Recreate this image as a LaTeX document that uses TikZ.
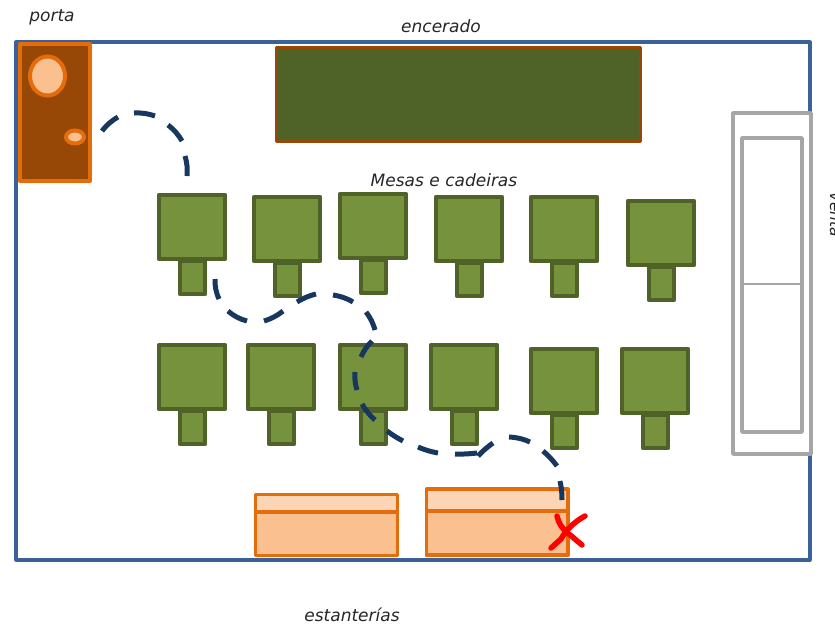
\documentclass[tikz,border=0pt]{standalone}
\usepackage{fontspec}
\setmainfont{DejaVu Sans}
\definecolor{roomblue}{HTML}{3A6298}
\definecolor{pathblue}{HTML}{17375E}
\definecolor{deskgreen}{HTML}{76923C}
\definecolor{darkgreen}{HTML}{4F6228}
\definecolor{doorbrown}{HTML}{974806}
\definecolor{lineorange}{HTML}{E46C0A}
\definecolor{lightorange}{HTML}{FAC090}
\definecolor{paleorange}{HTML}{FBD5B5}
\definecolor{wingray}{HTML}{A6A6A6}
\tikzset{
  desk/.style={draw=darkgreen,fill=deskgreen,line width=4.5pt,line join=round},
  shelf/.style={draw=lineorange,line width=3.2pt,line join=round},
  windowline/.style={draw=wingray,line width=3.5pt,line join=round},
  walk/.style={draw=pathblue,line width=5pt},
  label/.style={font=\itshape\fontsize{17}{20}\selectfont,text=black!85}
}
\begin{document}
\begin{tikzpicture}[x=1pt,y=-1pt]
\useasboundingbox (0,0) rectangle (835,626);
\draw[draw=roomblue,line width=3.2pt,line join=round] (16,42) rectangle (810,560);
% door
\draw[draw=lineorange,fill=doorbrown,line width=4pt,line join=round] (20,44) rectangle (90,181);
\draw[draw=lineorange,fill=lightorange,line width=4pt] (47.5,76) ellipse (17.5 and 19.5);
\draw[draw=lineorange,fill=lightorange,line width=4pt] (75,137) ellipse (9 and 6.5);
% board
\draw[draw=doorbrown,fill=darkgreen,line width=3pt,line join=round] (276.5,48) rectangle (640,141.5);
% window
\draw[windowline,fill=white] (733,113) rectangle (811,454);
\draw[windowline] (742,138) rectangle (802,432);
\draw[draw=wingray,line width=1.5pt] (742,284) -- (802,284);
% desks and chairs
\foreach \x/\y in {159/195,254/197,340/194,436/197,531/197,628/201,159/345,248/345,340/345,431/345,531/349,622/349} {
  \draw[desk] (\x+21,\y+66) rectangle (\x+46,\y+99);
  \draw[desk] (\x,\y) rectangle (\x+66,\y+64);
}
% shelves
\draw[shelf,fill=paleorange] (255.5,494.5) rectangle (397.5,555.5);
\draw[shelf,fill=lightorange] (255.5,512) rectangle (397.5,555.5);
\draw[shelf,fill=paleorange] (426.5,489) rectangle (568,555);
\draw[shelf,fill=lightorange] (426.5,511) rectangle (568,555);
% walk
\foreach \xa/\ya/\xb/\yb/\b in {102/131/118/117/10,134/113/155/116/10,168/125/182/141/10,185/156/187/176/10,
  215/279/219/299/-12,228/311/247/321/-12,264/321/283/311/-10,297/302/316/294/8,333/295/353/302/10,366/312/375/330/10,
  372/341/361/357/-10,355/372/357/390/-10,362/404/375/420/-8,387/431/403/441/-4,418/447/438/453/-6,455/454/477/453/-4,
  478/456/493/443/5,509/437/530/442/10,543/451/557/466/6,560/481/562/500/6}
  \draw[walk] (\xa,\ya) to[bend left=\b] (\xb,\yb);
% cross
\draw[draw=red,line width=5.5pt,line cap=round] (557,516) .. controls (560,530) and (570,534) .. (576,540) -- (582,545);
\draw[draw=red,line width=5.5pt,line cap=round] (585,516) .. controls (574,522) and (566,530) .. (561,539) -- (551,548);
% labels
\node[label] (porta) at (52,17) {porta};
\node[label] (encerado) at (441,26) {encerado};
\node[label] (mesas) at (444,180) {Mesas e cadeiras};
\node[label,inner ysep=1pt] (estanterias) at (352,615) {estanterías};
\node[label,font=\itshape\fontsize{15.5}{18}\selectfont,rotate=-90,anchor=base] (venta) at (830,215) {venta};
\end{tikzpicture}
\end{document}
